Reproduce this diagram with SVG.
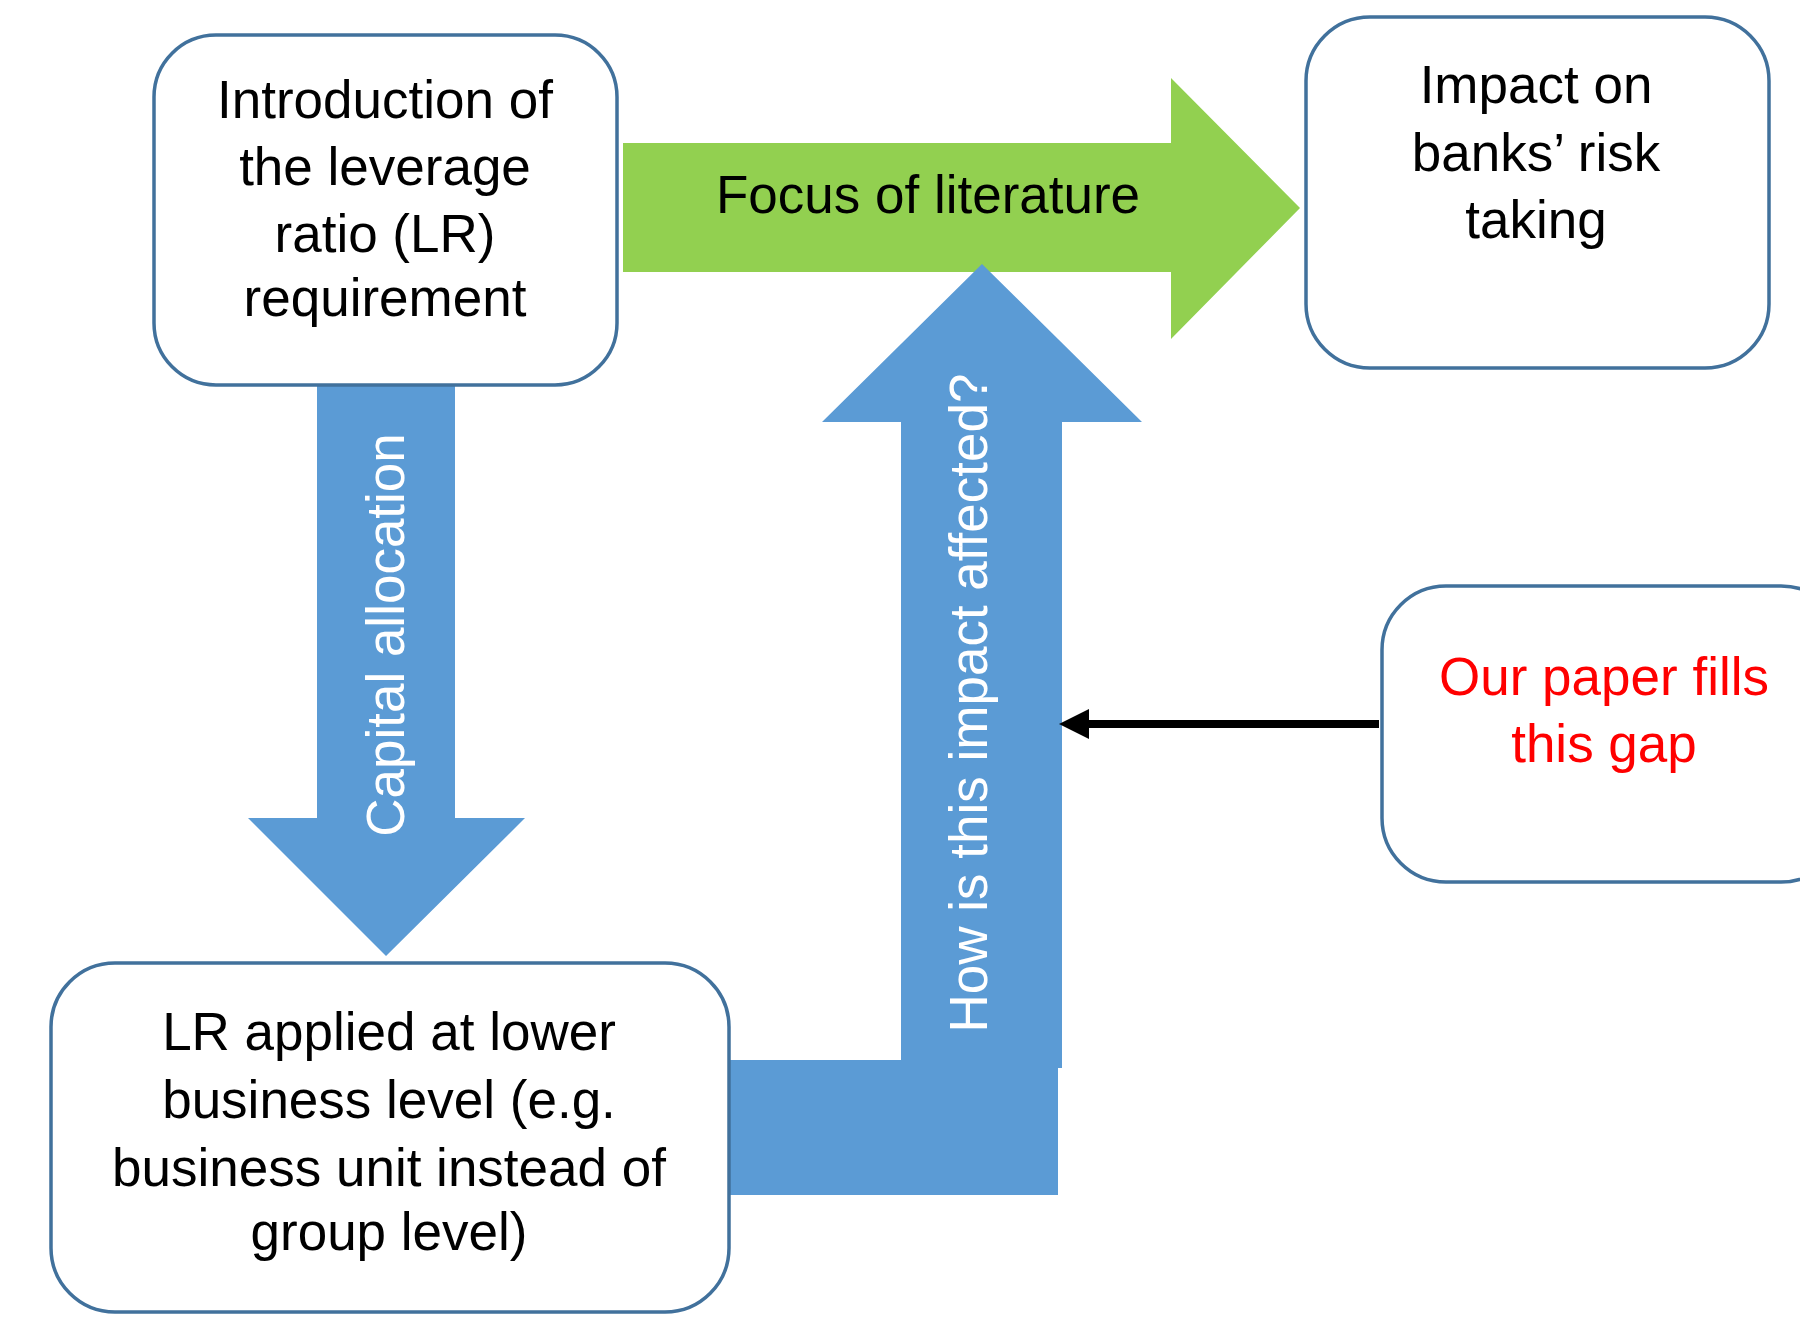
<svg xmlns="http://www.w3.org/2000/svg" width="1800" height="1324" viewBox="0 0 1800 1324">
  <style>
    .box { fill: #FFFFFF; stroke: #41719C; stroke-width: 3.5; }
    .txt { font-family: "Liberation Sans", Arial, sans-serif; font-size: 53px; fill: #000000; text-anchor: middle; }
    .wtxt { font-family: "Liberation Sans", Arial, sans-serif; font-size: 53px; fill: #FFFFFF; text-anchor: middle; }
    .red { fill: #FF0000; }
    .blue { fill: #5B9BD5; }
    .green { fill: #92D050; }
  </style>
  <defs>
    <marker id="ah" markerUnits="userSpaceOnUse" markerWidth="30" markerHeight="30" viewBox="0 0 30 30" refX="0" refY="15" orient="auto">
      <path d="M0,0 L30,15 L0,30 z" fill="#000000"/>
    </marker>
  </defs>
  <rect width="1800" height="1324" fill="#FFFFFF"/>

  <g id="connectors">
    <g id="focus-arrow">
      <polygon class="green" points="623,143 1171,143 1171,78 1300,208 1171,339 1171,272 623,272"/>
      <text class="txt" x="928" y="213">Focus of literature</text>
    </g>
    <g id="capital-arrow">
      <polygon class="blue" points="317,385 455,385 455,818 525,818 386,956 248,818 317,818"/>
      <text class="wtxt" transform="translate(404,635) rotate(-90)">Capital allocation</text>
    </g>
    <g id="how-arrow">
      <rect class="blue" x="730" y="1060" width="328" height="135"/>
      <polygon class="blue" points="982,264 1142,422 1062,422 1062,1068 901,1068 901,422 822,422"/>
      <text class="wtxt" transform="translate(987,703) rotate(-90)">How is this impact affected?</text>
    </g>
    <line id="gap-arrow" x1="1379" y1="724" x2="1089" y2="724" stroke="#000000" stroke-width="8" marker-end="url(#ah)"/>
  </g>

  <g id="node-introduction">
    <rect class="box" x="154" y="35" width="463" height="350" rx="62" ry="62"/>
    <text class="txt" x="385" y="118">Introduction of</text>
    <text class="txt" x="385" y="185">the leverage</text>
    <text class="txt" x="385" y="252">ratio (LR)</text>
    <text class="txt" x="385" y="316">requirement</text>
  </g>

  <g id="node-impact">
    <rect class="box" x="1306" y="17" width="463" height="351" rx="64" ry="64"/>
    <text class="txt" x="1536" y="103">Impact on</text>
    <text class="txt" x="1536" y="171">banks’ risk</text>
    <text class="txt" x="1536" y="238">taking</text>
  </g>

  <g id="node-lr-applied">
    <rect class="box" x="51" y="963" width="678" height="349" rx="64" ry="64"/>
    <text class="txt" x="389" y="1050">LR applied at lower</text>
    <text class="txt" x="389" y="1118">business level (e.g.</text>
    <text class="txt" x="389" y="1186">business unit instead of</text>
    <text class="txt" x="389" y="1250">group level)</text>
  </g>

  <g id="node-our-paper">
    <rect class="box" x="1382" y="586" width="463" height="296" rx="64" ry="64"/>
    <text class="txt red" x="1604" y="695">Our paper fills</text>
    <text class="txt red" x="1604" y="762">this gap</text>
  </g>
</svg>
